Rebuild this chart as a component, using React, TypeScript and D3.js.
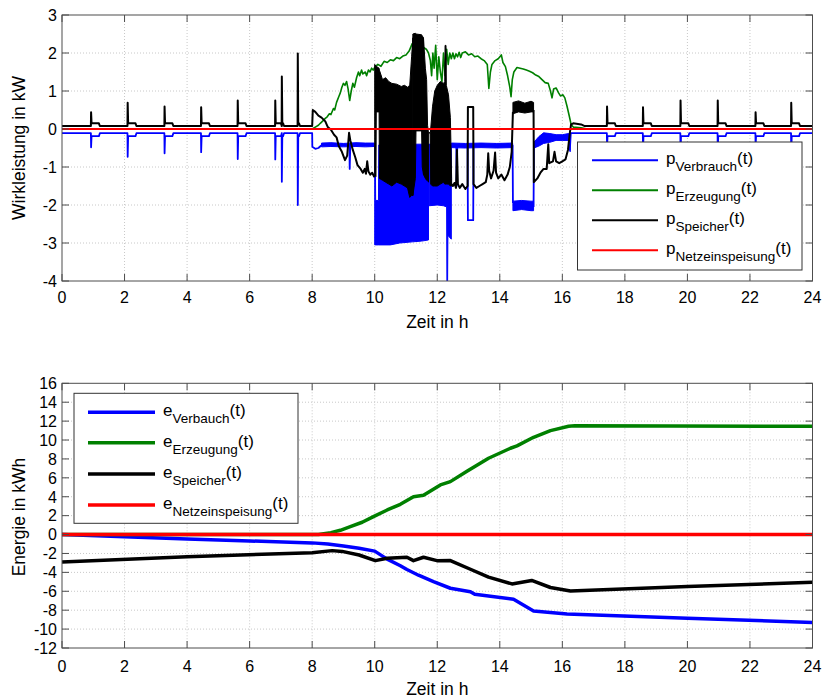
import React from "react";
import * as d3 from "d3";

type P = [number, number];
type B = [number, number, number]; // [t, lo, hi]

// ---------- tick values ----------
const xTickValues = [0, 2, 4, 6, 8, 10, 12, 14, 16, 18, 20, 22, 24];
const pTickValues = [-4, -3, -2, -1, 0, 1, 2, 3];
const eTickValues = [-12, -10, -8, -6, -4, -2, 0, 2, 4, 6, 8, 10, 12, 14, 16];

// ---------- night-time load events (top panel) ----------
const eventTimes = [0.93, 2.1, 3.28, 4.45, 5.62, 6.82, 7.03, 7.54, 17.43, 18.58, 19.78, 20.97, 22.18, 23.32];
const eventShelfDur = [0.25, 0.25, 0.25, 0.25, 0.25, 0.18, 0.04, 0.04, 0.25, 0.25, 0.25, 0.25, 0.25, 0.25];
const speicherEventPeak = [0.44, 0.69, 0.59, 0.57, 0.75, 0.75, 1.38, 1.99, 0.59, 0.57, 0.75, 0.75, 0.44, 0.69];
const verbrauchEventPeak = [-0.48, -0.73, -0.64, -0.61, -0.79, -0.8, -1.39, -2.0, -0.48, -0.6, -0.75, -0.75, -0.45, -0.7];
const speicherBase = 0.08;
const speicherShelf = 0.15;
const verbrauchBase = -0.11;
const verbrauchShelf = -0.19;

// ---------- day-time traces (top panel), [t in h, kW] ----------
const verbrauchDay: P[] = [
  [8.0, -0.11], [8.005, -0.47], [8.1, -0.52], [8.2, -0.5], [8.28, -0.44], [8.35, -0.4], [8.45, -0.42],
  [8.55, -0.39], [8.65, -0.43], [8.75, -0.4], [8.85, -0.43], [8.95, -0.4], [9.05, -0.42], [9.15, -0.41],
  [9.19, -0.43], [9.2, -1.05], [9.22, -0.42], [9.3, -0.4], [9.4, -0.43], [9.5, -0.4], [9.6, -0.43],
  [9.7, -0.41], [9.8, -0.43], [9.9, -0.4], [9.99, -0.42], [10.0, NaN],
  [12.45, -0.45], [12.52, -0.4], [12.58, -0.44], [12.61, -0.42], [12.62, -1.5], [12.64, -0.45], [12.7, -0.4],
  [12.78, -0.44], [12.86, -0.41], [12.94, -0.44], [12.97, -0.42], [12.98, -2.4], [13.15, -2.4], [13.16, -0.44],
  [13.25, -0.41], [13.35, -0.44], [13.45, -0.4], [13.55, -0.43], [13.65, -0.41], [13.75, -0.44], [13.85, -0.4],
  [13.95, -0.43], [14.05, -0.41], [14.15, -0.44], [14.25, -0.4], [14.35, -0.42], [14.41, -0.43], [14.42, -1.95],
  [14.43, NaN],
  [15.08, -2.05], [15.09, -0.48], [15.2, -0.42], [15.3, -0.3], [15.4, -0.25], [15.5, -0.2], [15.6, -0.22],
  [15.7, -0.18], [15.8, -0.22], [15.9, -0.2], [16.0, -0.22], [16.1, -0.18], [16.2, -0.2], [16.24, -0.55],
  [16.27, -0.11], [16.7, -0.11],
];
const verbrauchBands: B[][] = [
  [[8.3, -0.47, -0.37], [8.6, -0.46, -0.36], [9.0, -0.47, -0.38], [9.4, -0.46, -0.36], [9.7, -0.47, -0.37], [10.0, -0.46, -0.37]],
  [[10.0, -3.05, -0.45], [10.02, -3.05, -0.45], [10.03, -3.05, -1.88], [10.12, -3.05, -1.88], [10.13, -3.05, -0.42],
   [10.5, -3.05, -0.42], [10.8, -3.0, -0.42], [11.2, -2.97, -0.4], [11.5, -2.95, -0.4], [11.72, -2.92, -0.4]],
  [[11.74, -2.02, -0.4], [12.0, -2.0, -0.4], [12.2, -2.02, -0.42], [12.3, -2.05, -0.42], [12.31, -4.2, -0.42],
   [12.33, -4.2, -0.42], [12.34, -2.8, -0.42], [12.45, -2.9, -0.42]],
  [[12.45, -0.49, -0.37], [12.9, -0.5, -0.38], [13.4, -0.49, -0.37], [13.9, -0.5, -0.38], [14.41, -0.49, -0.37]],
  [[14.42, -2.15, -1.9], [14.7, -2.12, -1.88], [15.0, -2.15, -1.9], [15.08, -2.15, -1.9]],
  [[15.09, -0.5, -0.35], [15.25, -0.45, -0.2], [15.4, -0.38, -0.1], [15.6, -0.35, -0.12], [15.8, -0.3, -0.15],
   [16.0, -0.3, -0.15], [16.2, -0.3, -0.12], [16.25, -0.6, -0.1]],
];

const erzeugungDay: P[] = [
  [0, 0], [8.0, 0], [8.1, 0.05], [8.2, 0.1], [8.26, 0.15], [8.35, 0.22], [8.42, 0.28], [8.48, 0.32], [8.55, 0.4],
  [8.6, 0.38], [8.68, 0.54], [8.72, 0.5], [8.78, 0.7], [8.85, 0.85], [8.9, 0.95], [8.95, 1.1], [9.0, 1.2],
  [9.05, 1.15], [9.1, 1.25], [9.15, 1.05], [9.2, 0.75], [9.25, 1.0], [9.3, 1.2], [9.35, 1.1], [9.42, 1.35],
  [9.48, 1.5], [9.52, 1.4], [9.58, 1.55], [9.62, 1.45], [9.7, 1.5], [9.74, 1.4], [9.8, 1.55], [9.85, 1.5],
  [9.9, 1.6], [9.95, 1.55], [10.0, 1.62], [10.1, 1.7], [10.2, 1.65], [10.3, 1.78], [10.4, 1.75], [10.5, 1.82],
  [10.6, 1.8], [10.7, 1.88], [10.8, 1.85], [10.9, 1.92], [11.0, 1.95], [11.1, 2.05], [11.2, 2.25], [11.25, 2.15],
  [11.35, 2.2], [11.45, 2.25], [11.55, 2.15], [11.65, 2.1], [11.72, 2.0], [11.78, 1.8], [11.82, 1.4], [11.86, 2.0],
  [11.9, 1.6], [11.95, 2.2], [12.0, 1.3], [12.05, 1.9], [12.1, 1.5], [12.15, 1.25], [12.2, 2.0], [12.25, 1.4],
  [12.3, 2.1], [12.35, 1.7], [12.4, 2.0], [12.45, 1.85], [12.5, 2.0], [12.55, 1.85], [12.6, 1.98], [12.65, 1.9],
  [12.7, 2.02], [12.75, 1.88], [12.8, 2.0], [12.9, 2.03], [13.0, 1.95], [13.1, 1.98], [13.2, 1.9], [13.3, 1.92],
  [13.4, 1.85], [13.5, 1.8], [13.6, 1.7], [13.65, 1.07], [13.7, 1.5], [13.75, 1.7], [13.85, 1.8], [13.95, 1.85],
  [14.05, 1.95], [14.1, 1.75], [14.18, 1.64], [14.25, 1.4], [14.32, 1.1], [14.36, 0.85], [14.4, 1.3], [14.45, 1.5],
  [14.55, 1.62], [14.65, 1.6], [14.75, 1.58], [14.85, 1.55], [14.95, 1.52], [15.05, 1.48], [15.15, 1.42],
  [15.25, 1.38], [15.35, 1.3], [15.45, 1.22], [15.55, 1.2], [15.62, 1.0], [15.67, 0.82], [15.72, 1.05],
  [15.8, 1.08], [15.88, 0.95], [15.94, 0.87], [16.02, 0.9], [16.08, 0.82], [16.15, 0.6], [16.22, 0.35],
  [16.28, 0.12], [16.35, 0.05], [16.6, 0.03], [16.8, 0.0], [24, 0],
];

const speicherDay: P[] = [
  [8.0, 0.08], [8.02, 0.5], [8.1, 0.45], [8.2, 0.35], [8.3, 0.3], [8.42, 0.2], [8.5, 0.05], [8.6, -0.02],
  [8.7, -0.15], [8.78, -0.22], [8.85, -0.45], [8.95, -0.6], [9.05, -0.82], [9.12, -0.7], [9.18, -0.1],
  [9.22, -0.3], [9.3, -0.55], [9.38, -0.75], [9.45, -0.95], [9.55, -1.05], [9.62, -1.15], [9.68, -1.05],
  [9.72, -1.18], [9.76, -0.85], [9.8, -1.12], [9.86, -1.2], [9.92, -1.15], [9.98, -1.25], [10.0, -1.2],
  [10.01, NaN],
  [12.46, -1.45], [12.5, -1.5], [12.55, -1.42], [12.6, -1.55], [12.63, -0.55], [12.66, -1.45], [12.72, -1.55],
  [12.8, -1.45], [12.9, -1.58], [12.97, -1.5], [12.98, 0.58], [13.15, 0.58], [13.16, -1.45], [13.25, -1.55],
  [13.35, -1.5], [13.45, -1.45], [13.55, -1.4], [13.6, -1.2], [13.63, -0.64], [13.66, -1.1], [13.72, -1.3],
  [13.8, -1.1], [13.85, -0.62], [13.88, -1.15], [13.95, -1.3], [14.05, -1.2], [14.15, -1.35], [14.25, -1.2],
  [14.32, -1.0], [14.38, -0.6], [14.42, 0.45], [14.43, NaN],
  [15.08, 0.5], [15.09, -1.4], [15.2, -1.3], [15.3, -1.15], [15.4, -1.05], [15.5, -1.05], [15.55, -0.4],
  [15.58, -0.9], [15.7, -0.85], [15.75, -0.6], [15.8, -0.85], [15.9, -0.9], [16.0, -0.85], [16.1, -0.8],
  [16.18, -0.55], [16.24, -0.1], [16.28, 0.12], [16.35, 0.15], [16.6, 0.12], [16.7, 0.08],
];
const speicherBands: B[][] = [
  [[10.0, -1.2, 1.7], [10.04, -1.25, 1.65], [10.05, 0.45, 1.65], [10.14, 0.45, 1.6], [10.15, -1.3, 1.55],
   [10.25, -1.35, 1.3], [10.35, -1.4, 1.35], [10.45, -1.45, 1.25], [10.55, -1.5, 1.2], [10.7, -1.4, 1.18],
   [10.85, -1.45, 1.12], [10.95, -1.5, 1.15], [11.05, -1.55, 1.1], [11.12, -1.8, 1.15], [11.18, -1.75, 1.9],
   [11.22, -1.75, 2.4]],
  [[11.22, -1.75, 2.5], [11.3, -1.3, 2.52], [11.32, -0.05, 2.5], [11.5, -0.05, 2.48], [11.52, -1.0, 2.45],
   [11.56, -1.2, 2.4]],
  [[11.56, -1.2, 2.4], [11.62, -1.3, 1.6], [11.66, -1.35, 1.3], [11.69, -1.35, 0.1], [11.72, -1.4, -0.1],
   [11.73, -0.1, -0.1], [11.78, -0.1, -0.1], [11.79, -1.45, 0.0], [11.85, -1.5, 0.6], [11.92, -1.5, 1.0],
   [12.0, -1.5, 1.15], [12.1, -1.45, 1.25], [12.2, -1.4, 1.2], [12.24, -1.45, 1.25], [12.25, -1.45, 2.2],
   [12.28, -1.45, 2.2], [12.29, -1.45, 1.15], [12.36, -1.45, 0.9], [12.42, -1.5, 0.3], [12.46, -1.5, -1.3]],
  [[14.42, 0.4, 0.7], [14.6, 0.45, 0.74], [14.8, 0.42, 0.68], [15.0, 0.45, 0.73], [15.08, 0.45, 0.7]],
];

const netzP: P[] = [[0, 0], [24, 0]];

// ---------- bottom panel, [t in h, kWh] ----------
const eVerbrauch: P[] = [
  [0, 0], [2, -0.22], [4, -0.47], [6, -0.68], [8, -0.88], [8.5, -1.0], [9, -1.2], [9.5, -1.45], [10, -1.75],
  [10.4, -2.6], [10.82, -3.3], [11.03, -3.7], [11.4, -4.3], [11.88, -4.98], [12.42, -5.68], [13.06, -6.04],
  [13.2, -6.32], [14.44, -6.85], [15.08, -8.08], [16.15, -8.4], [20, -8.86], [24, -9.3],
];
const eErzeugung: P[] = [
  [0, 0], [8.2, 0], [8.6, 0.2], [8.9, 0.45], [9.22, 0.84], [9.6, 1.3], [9.96, 1.9], [10.4, 2.6], [10.82, 3.2],
  [11.24, 4.0], [11.56, 4.15], [12.1, 5.25], [12.42, 5.6], [12.95, 6.7], [13.64, 8.07], [14.34, 9.13],
  [14.55, 9.38], [15.08, 10.29], [15.62, 10.99], [16.2, 11.45], [16.4, 11.5], [24, 11.45],
];
const eSpeicher: P[] = [
  [0, -2.9], [4, -2.35], [8, -1.92], [8.64, -1.7], [8.96, -1.78], [9.5, -2.16], [10.02, -2.76], [10.4, -2.5],
  [11.03, -2.4], [11.24, -2.76], [11.56, -2.4], [11.99, -2.76], [12.42, -2.75], [13.06, -3.67], [13.64, -4.5],
  [14.39, -5.22], [15.02, -4.85], [15.62, -5.6], [16.26, -5.97], [20, -5.5], [24, -5.05],
];
const eNetz: P[] = [[0, 0], [24, 0]];

// ---------- helpers ----------
function buildNight(from: number, to: number, base: number, shelf: number, peaks: number[]): P[] {
  const pts: P[] = [[from, base]];
  eventTimes.forEach((t, i) => {
    if (t > from && t < to) {
      const d = eventShelfDur[i];
      pts.push([t - 0.006, base], [t, peaks[i]], [t + 0.015, shelf], [t + d, shelf], [t + d + 0.03, base]);
    }
  });
  pts.push([to, base]);
  return pts;
}

const pVerbrauch: P[] = [
  ...buildNight(0, 8.0, verbrauchBase, verbrauchShelf, verbrauchEventPeak),
  ...verbrauchDay,
  ...buildNight(16.7, 24, verbrauchBase, verbrauchShelf, verbrauchEventPeak),
];
const pSpeicher: P[] = [
  ...buildNight(0, 8.0, speicherBase, speicherShelf, speicherEventPeak),
  ...speicherDay,
  ...buildNight(16.7, 24, speicherBase, speicherShelf, speicherEventPeak),
];
const pErzeugung: P[] = erzeugungDay;

const FONT = "'Liberation Sans', Arial, Helvetica, sans-serif";
const AX = "#4d4d4d";
const GRID = "#c8c8c8";

const X0 = 62;
const X1 = 812.5;

type SeriesDef = { data: P[]; color: string; width: number; bands?: B[][] };
type LegendDef = {
  x: number; y: number; w: number; h: number; rows: number[]; lx1: number; lx2: number; tx: number;
  lineWidth: number; prefix: string; entries: { color: string; sub: string }[];
};

function Axes(props: {
  id: string; top: number; bottom: number; domain: [number, number]; yTicks: number[];
  series: SeriesDef[]; ylabel: string; ylabelY: number; xlabelY: number; xTickY: number; legend: LegendDef;
}) {
  const { id, top, bottom, domain, yTicks, series, ylabel, ylabelY, xlabelY, xTickY, legend } = props;
  const x = d3.scaleLinear().domain([0, 24]).range([X0, X1]);
  const y = d3.scaleLinear().domain(domain).range([bottom, top]);
  const line = d3.line<P>().defined((d) => !isNaN(d[1])).x((d) => x(d[0])).y((d) => y(d[1]));
  const area = d3.area<B>().x((d) => x(d[0])).y0((d) => y(d[1])).y1((d) => y(d[2]));
  const tl = 7;
  return (
    <g>
      <defs>
        <clipPath id={id}>
          <rect x={X0} y={top} width={X1 - X0} height={bottom - top} />
        </clipPath>
      </defs>
      <rect x={X0} y={top} width={X1 - X0} height={bottom - top} fill="#fff" />
      {xTickValues.slice(1, -1).map((t) => (
        <line key={"gx" + t} x1={x(t)} x2={x(t)} y1={top} y2={bottom} stroke={GRID} strokeWidth={1} strokeDasharray="1,2" />
      ))}
      {yTicks.slice(1, -1).map((t) => (
        <line key={"gy" + t} x1={X0} x2={X1} y1={y(t)} y2={y(t)} stroke={GRID} strokeWidth={1} strokeDasharray="1,2" />
      ))}
      <g clipPath={`url(#${id})`}>
        {series.map((s, i) => (
          <g key={i}>
            {(s.bands || []).map((b, j) => (
              <path key={j} d={area(b) || ""} fill={s.color} stroke={s.color} strokeWidth={1} />
            ))}
            <path d={line(s.data) || ""} fill="none" stroke={s.color} strokeWidth={s.width} strokeLinejoin="round" />
          </g>
        ))}
      </g>
      <rect x={X0} y={top} width={X1 - X0} height={bottom - top} fill="none" stroke={AX} strokeWidth={1} />
      {xTickValues.map((t) => (
        <g key={"tx" + t}>
          <line x1={x(t)} x2={x(t)} y1={bottom} y2={bottom - tl} stroke={AX} />
          <line x1={x(t)} x2={x(t)} y1={top} y2={top + tl} stroke={AX} />
          <text x={x(t)} y={xTickY} textAnchor="middle" fontSize={16} fontFamily={FONT} fill="#000">{t}</text>
        </g>
      ))}
      {yTicks.map((t) => (
        <g key={"ty" + t}>
          <line x1={X0} x2={X0 + tl} y1={y(t)} y2={y(t)} stroke={AX} />
          <line x1={X1} x2={X1 - tl} y1={y(t)} y2={y(t)} stroke={AX} />
          <text x={57} y={y(t) + 5.8} textAnchor="end" fontSize={16} fontFamily={FONT} fill="#000">{t}</text>
        </g>
      ))}
      <text x={(X0 + X1) / 2} y={xlabelY} textAnchor="middle" fontSize={17.5} fontFamily={FONT} fill="#000">Zeit in h</text>
      <text transform={`translate(25,${ylabelY}) rotate(-90)`} textAnchor="middle" fontSize={17.5} fontFamily={FONT} fill="#000">{ylabel}</text>
      <rect x={legend.x} y={legend.y} width={legend.w} height={legend.h} fill="#fff" stroke="#333" strokeWidth={1} />
      {legend.entries.map((e, i) => (
        <g key={"lg" + i}>
          <line x1={legend.lx1} x2={legend.lx2} y1={legend.rows[i]} y2={legend.rows[i]} stroke={e.color} strokeWidth={legend.lineWidth} />
          <text x={legend.tx} y={legend.rows[i] + 4} fontSize={17} fontFamily={FONT} fill="#000">
            <tspan>{legend.prefix}</tspan>
            <tspan dy={7} fontSize={13.5}>{e.sub}</tspan>
            <tspan dy={-7}>(t)</tspan>
          </text>
        </g>
      ))}
    </g>
  );
}

export default function App() {
  const topSeries: SeriesDef[] = [
    { data: pVerbrauch, color: "#0000ff", width: 1.8, bands: verbrauchBands },
    { data: pErzeugung, color: "#008000", width: 1.6 },
    { data: pSpeicher, color: "#000000", width: 2, bands: speicherBands },
    { data: netzP, color: "#ff0000", width: 2.2 },
  ];
  const botSeries: SeriesDef[] = [
    { data: eVerbrauch, color: "#0000ff", width: 3.5 },
    { data: eErzeugung, color: "#008000", width: 3.5 },
    { data: eSpeicher, color: "#000000", width: 3.5 },
    { data: eNetz, color: "#ff0000", width: 3.5 },
  ];
  return (
    <svg width={822} height={699} style={{ position: "absolute", left: 0, top: 0, background: "#fff" }}>
      <rect x={0} y={0} width={822} height={699} fill="#fff" />
      <Axes
        id="clipTop" top={15} bottom={281} domain={[-4, 3]} yTicks={pTickValues} series={topSeries}
        ylabel="Wirkleistung in kW" ylabelY={148} xlabelY={328} xTickY={303}
        legend={{
          x: 577.5, y: 142, w: 224.5, h: 128, rows: [160.3, 190.3, 220.3, 250.3], lx1: 592, lx2: 658, tx: 666,
          lineWidth: 2, prefix: "p",
          entries: [
            { color: "#0000ff", sub: "Verbrauch" },
            { color: "#008000", sub: "Erzeugung" },
            { color: "#000000", sub: "Speicher" },
            { color: "#ff0000", sub: "Netzeinspeisung" },
          ],
        }}
      />
      <Axes
        id="clipBot" top={383.3} bottom={648} domain={[-12, 16]} yTicks={eTickValues} series={botSeries}
        ylabel="Energie in kWh" ylabelY={517} xlabelY={695} xTickY={671.5}
        legend={{
          x: 74, y: 393.3, w: 224, h: 130, rows: [412.3, 442.7, 474, 505], lx1: 88, lx2: 155, tx: 163,
          lineWidth: 3.5, prefix: "e",
          entries: [
            { color: "#0000ff", sub: "Verbauch" },
            { color: "#008000", sub: "Erzeugung" },
            { color: "#000000", sub: "Speicher" },
            { color: "#ff0000", sub: "Netzeinspeisung" },
          ],
        }}
      />
    </svg>
  );
}
